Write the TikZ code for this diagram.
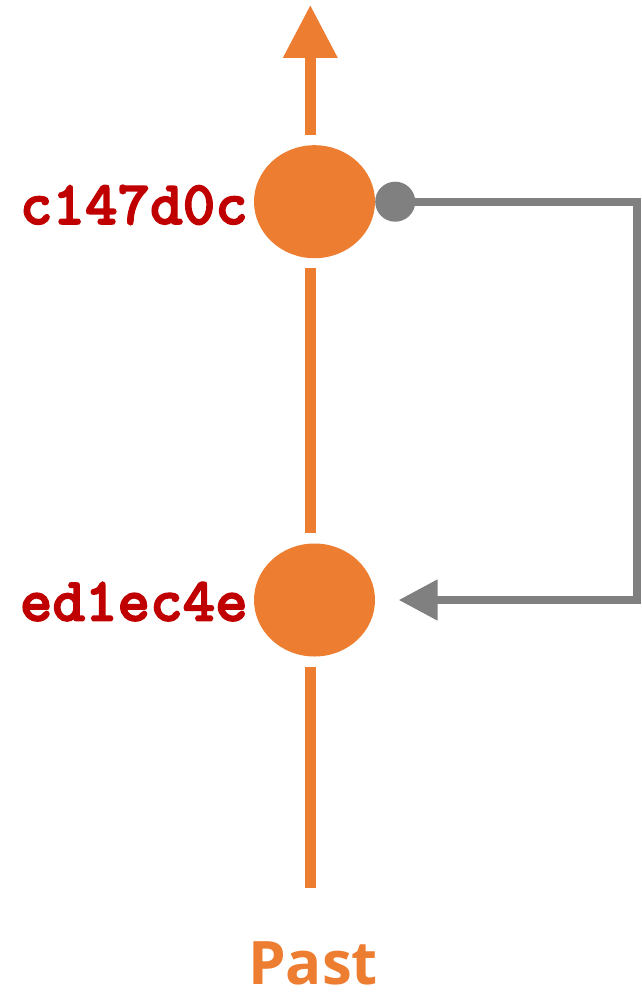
\documentclass[tikz,border=0pt]{standalone}
\usepackage{fontspec}
\newfontfamily\pastfont{Open Sans}
\newfontfamily\hashfont[FakeBold=2.5]{lmmonolt10-bold.otf}
\usetikzlibrary{arrows.meta,shapes.geometric,calc}
\definecolor{gitorange}{HTML}{ED7D31}
\definecolor{gitgrey}{HTML}{808080}
\definecolor{gitred}{HTML}{C00000}
\begin{document}
\begin{tikzpicture}[x=1pt,y=-1pt,
  commit/.style={ellipse,fill=gitorange,draw=none,inner sep=0pt,
    minimum width=121pt,minimum height=113pt},
  hashlabel/.style={anchor=base east,inner sep=0pt,text=gitred,
    font=\fontsize{62}{68}\selectfont\hashfont},
  timeline/.style={draw=gitorange,line width=10.5pt},
  refline/.style={draw=gitgrey,line width=8pt,line join=miter},
  pastlabel/.style={anchor=base,inner sep=0pt,text=gitorange,
    font=\fontsize{60}{66}\selectfont\pastfont\bfseries}]
\useasboundingbox (0,0) rectangle (641,992);
\node[commit] (c1) at (314.5,201.7) {};
\node[commit] (c2) at (314.5,600) {};
\node[hashlabel] (l1) at (248,224) {c147d0c};
\node[hashlabel] (l2) at (248,620.7) {ed1ec4e};
\node[pastlabel] (past) at (313,984) {Past};
\coordinate (top) at (310.3,5);
\coordinate (bot) at (310.3,888.3);
\coordinate (rgt) at (637,0);
\coordinate (atip) at (398.6,600);
% timeline
\draw[timeline,-{Triangle[length=53pt,width=52pt]},shorten <=10pt]
  ([xshift=-4.2pt]c1.north) -- (top);
\draw[timeline,shorten <=10pt,shorten >=10pt]
  ([xshift=-4.2pt]c1.south) -- ([xshift=-4.2pt]c2.north);
\draw[timeline,shorten <=10pt] ([xshift=-4.2pt]c2.south) -- (bot);
% reference connector
\draw[refline,{Circle[length=40pt]}-{Triangle[length=39pt,width=39pt]}]
  (c1.east) -- (c1.east -| rgt) |- (atip);
\end{tikzpicture}
\end{document}
